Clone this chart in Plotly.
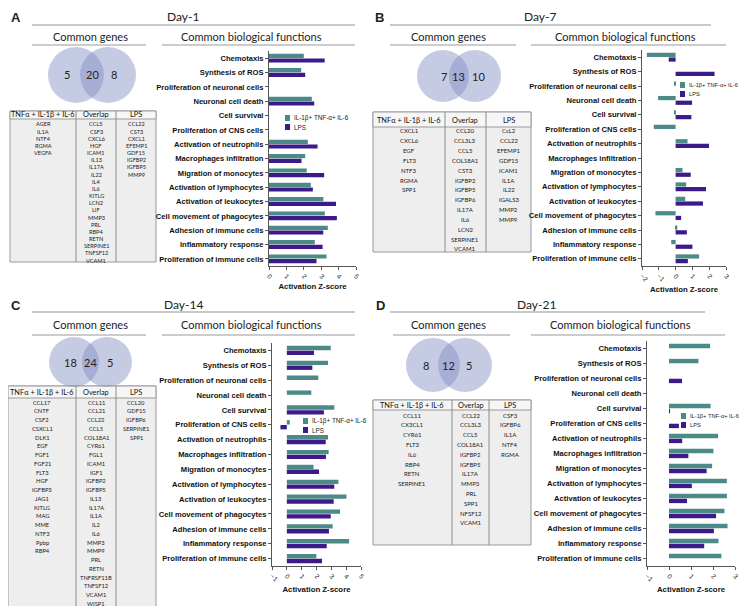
import plotly.graph_objects as go

# ── Data ──
functions = ['Chemotaxis', 'Synthesis of ROS', 'Proliferation of neuronal cells',
             'Neuronal cell death', 'Cell survival', 'Proliferation of CNS cells',
             'Activation of neutrophils', 'Macrophages infiltration', 'Migration of monocytes',
             'Activation of lymphocytes', 'Activation of leukocytes', 'Cell movement of phagocytes',
             'Adhesion of immune cells', 'Inflammatory response', 'Proliferation of immune cells']

series_names = ['IL-1β+ TNF-α+ IL-6', 'LPS']
table_headers = ['TNFα + IL-1β + IL-6', 'Overlap', 'LPS']

# Day-1
day1_cyto_genes = ['AGER', 'IL1A', 'NTF4', 'RGMA', 'VEGFA']
day1_overlap_genes = ['CCL5', 'CSF3', 'CXCL6', 'HGF', 'ICAM1', 'IL13', 'IL17A', 'IL22', 'IL4', 'IL6',
                      'KITLG', 'LCN2', 'LIF', 'MMP3', 'PRL', 'RBP4', 'RETN', 'SERPINE1', 'TNFSF12', 'VCAM1']
day1_lps_genes = ['CCL22', 'CST3', 'CXCL1', 'EFEMP1', 'GDF15', 'IGFBP2', 'IGFBP5', 'MMP9']
day1_cyto_z = [2.0, 1.85, None, 2.46, None, None, 2.23, 2.08, 2.17, 2.4, 3.12, 3.21, 3.38, 2.63, 3.31]
day1_lps_z = [3.2, 2.08, None, 2.6, None, None, 2.79, 1.87, 3.17, 2.52, 3.85, 3.9, 3.12, 3.08, 2.73]

# Day-7
day7_cyto_genes = ['CXCL1', 'CXCL6', 'EGF', 'FLT3', 'NTF3', 'RGMA', 'SPP1']
day7_overlap_genes = ['CCL20', 'CCL3L3', 'CCL5', 'COL18A1', 'CST3', 'IGFBP2', 'IGFBP5', 'IGFBP6',
                      'IL17A', 'IL6', 'LCN2', 'SERPINE1', 'VCAM1']
day7_lps_genes = ['CcL2', 'CCL22', 'EFEMP1', 'GDF15', 'ICAM1', 'IL1A', 'IL22', 'IGALS3', 'MMP2', 'MMP9']
day7_cyto_z = [-1.71, None, -0.08, -1.04, -0.08, -1.3, 0.71, None, 0.41, 0.63, 0.57, -1.2, 0.1, -0.26, 1.4]
day7_lps_z = [-0.41, 2.32, None, 0.98, 0.94, None, 1.99, None, 0.9, 1.81, 1.63, 0.33, 0.67, 1.0, 0.73]

# Day-14
day14_cyto_genes = ['CCL17', 'CNTF', 'CSF2', 'CSXCL1', 'DLK1', 'EGF', 'FGF1', 'FGF21', 'FLT3', 'HGF',
                    'IGFBP3', 'JAG1', 'KITLG', 'MAG', 'MME', 'NTF3', 'Ppbp', 'RBP4']
day14_overlap_genes = ['CCL11', 'CCL21', 'CCL22', 'CCL5', 'COL18A1', 'CYR61', 'FGL1', 'ICAM1', 'IGF1',
                       'IGFBP2', 'IGFBP5', 'IL13', 'IL17A', 'IL1A', 'IL2', 'IL6', 'MMP3', 'MMP9', 'PRL',
                       'RETN', 'TNFRSF11B', 'TNFSF12', 'VCAM1', 'WISP1']
day14_lps_genes = ['CCL20', 'GDF15', 'IGFBP6', 'SERPINE1', 'SPP1']
day14_cyto_z = [2.96, 2.78, 2.12, 1.65, 3.2, 0.2, 2.78, 2.82, 1.8, 3.48, 4.02, 3.59, 3.09, 4.2, 1.99]
day14_lps_z = [1.83, 1.72, None, None, 2.5, -0.43, 2.62, 2.64, 2.17, 3.2, 3.16, 2.96, 2.84, 2.69, 2.37]

# Day-21
day21_cyto_genes = ['CCL11', 'CX3CL1', 'CYR61', 'FLT3', 'IL6', 'RBP4', 'RETN', 'SERPINE1']
day21_overlap_genes = ['CCL22', 'CCL3L3', 'CCL5', 'COL18A1', 'IGFBP2', 'IGFBP5', 'IL17A', 'MMP3',
                       'PRL', 'SPP1', 'NFSF12', 'VCAM1']
day21_lps_genes = ['CSF3', 'IGFBP6', 'IL1A', 'NTF4', 'RGMA']
day21_cyto_z = [1.87, 1.34, None, None, 1.89, None, 2.23, 2.02, 1.96, 2.63, 2.63, 2.52, 2.66, 2.25, 2.38]
day21_lps_z = [None, None, 0.59, None, 0.03, 0.45, 0.6, 0.88, 1.71, 1.04, 0.82, 2.14, 2.04, 1.6, None]

# ── Style ──
W, H = 747, 606
TEAL = '#4b8a87'
PURP = '#3c1a8a'
VENN = 'rgba(128,140,196,0.45)'
TXT = 'Lato'
ARIAL = 'Liberation Sans'


def px(x):
    return x / W


def py(y):
    return 1 - y / H


fig = go.Figure()


def text(x, y, s, size, family=TXT, bold=False, anchor='center', color='#222'):
    fig.add_annotation(x=px(x), y=py(y), xref='paper', yref='paper', text=s, showarrow=False,
                       xanchor=anchor, yanchor='middle',
                       font=dict(family=family, size=size, color=color,
                                 weight='bold' if bold else 'normal'))


def line(x0, x1, y, color, width):
    fig.add_shape(type='line', xref='paper', yref='paper', x0=px(x0), x1=px(x1), y0=py(y), y1=py(y),
                  line=dict(color=color, width=width))


def add_panel(n, letter, day, gene_lists, z_cyto, z_lps, zrange, g):
    ax = '' if n == 1 else str(n)

    # headings
    text(g['letter'][0], g['letter'][1], letter, 13, ARIAL, bold=True)
    text(g['day'][0], g['day'][1], day, 12)
    line(g['tline'][0], g['tline'][1], g['tline'][2], '#c8c8c8', 2)
    text(g['gtitle'][0], g['gtitle'][1], 'Common genes', 11)
    line(g['gline'][0], g['gline'][1], g['gline'][2], '#9a9a9a', 1)
    text(g['ftitle'][0], g['ftitle'][1], 'Common biological functions', 11)
    line(g['fline'][0], g['fline'][1], g['fline'][2], '#9a9a9a', 1)

    # venn
    c1, c2, cy = g['venn']
    r = g['r']
    for cx in (c1, c2):
        fig.add_shape(type='circle', xref='paper', yref='paper', x0=px(cx - r), x1=px(cx + r),
                      y0=py(cy + r), y1=py(cy - r), fillcolor=VENN, line=dict(width=0))
    counts = [len(gene_lists[0]), len(gene_lists[1]), len(gene_lists[2])]
    for xn, cnt in zip(g['nums'], counts):
        text(xn, cy, str(cnt), 11)

    # gene table
    x0, x1, s1, s2, top, hb, bot = g['table']
    fig.add_shape(type='rect', xref='paper', yref='paper', x0=px(x0), x1=px(x1), y0=py(bot), y1=py(top),
                  fillcolor='#eeeeee', line=dict(color='#9a9a9a', width=1), layer='below')
    fig.add_shape(type='rect', xref='paper', yref='paper', x0=px(x0), x1=px(x1), y0=py(hb), y1=py(top),
                  fillcolor='#f6f6f6', line=dict(color='#9a9a9a', width=1), layer='below')
    for sx in (s1, s2):
        fig.add_shape(type='line', xref='paper', yref='paper', x0=px(sx), x1=px(sx), y0=py(bot), y1=py(top),
                      line=dict(color='#8c8c8c', width=1))
    col_c = [(x0 + s1) / 2, (s1 + s2) / 2, (s2 + x1) / 2]
    for cx, head, genes in zip(col_c, table_headers, gene_lists):
        text(cx, g['hy'], head, 7.4, color='#111')
        for i, gene in enumerate(genes):
            text(cx, g['row0'] + i * g['pitch'], gene, g['gsize'], color='#222')

    # bars
    for name, vals, col in zip(series_names, [z_cyto, z_lps], [TEAL, PURP]):
        fig.add_trace(go.Bar(x=vals, y=functions, orientation='h', name=name, marker_color=col,
                             marker_line_width=0, xaxis='x' + ax, yaxis='y' + ax, showlegend=False))

    fig.update_layout(**{
        'xaxis' + ax: dict(domain=[px(g['axx'][0]), px(g['axx'][1])], anchor='y' + ax,
                           range=zrange, dtick=1, tick0=0, showgrid=False, zeroline=False,
                           showline=True, linecolor='#555', linewidth=1, ticks='outside',
                           ticklen=3, tickcolor='#555', tickangle=45, automargin=False,
                           tickfont=dict(family=ARIAL, size=6.5, color='#222'),
                           title=dict(text='Activation Z-score', standoff=4,
                                      font=dict(family=ARIAL, size=7.8, color='#111', weight='bold'))),
        'yaxis' + ax: dict(domain=[py(g['axy'][1]), py(g['axy'][0])], anchor='x' + ax,
                           type='category', categoryorder='array', categoryarray=functions,
                           autorange='reversed', showgrid=False, zeroline=False,
                           showline=True, linecolor='#555', linewidth=1, ticks='outside',
                           ticklen=3, tickcolor='#555', automargin=False,
                           tickfont=dict(family=ARIAL, size=7.6, color='#111', weight='bold')),
    })

    # legend
    lx, ly = g['legend']
    for k, (name, col) in enumerate(zip(series_names, [TEAL, PURP])):
        yy = ly + k * 9
        fig.add_shape(type='rect', xref='paper', yref='paper', x0=px(lx), x1=px(lx + 5),
                      y0=py(yy + 3), y1=py(yy - 3), fillcolor=col, line=dict(width=0))
        text(lx + 7, yy, name, g['lsize'], ARIAL, anchor='left', color='#222')


geo_a = dict(letter=(8, 9), day=(175, 8), tline=(24, 347, 17), gtitle=(82, 28), gline=(24, 138, 37),
             ftitle=(243, 28), fline=(154, 347, 37), venn=(68, 100, 67), r=28, nums=(59, 84, 106),
             table=(2, 148, 68, 108, 103, 111, 254), hy=107, row0=116, pitch=7.16, gsize=5.6,
             axx=(261, 348), axy=(43, 258), legend=(277, 110), lsize=6.3)
geo_b = dict(letter=(371, 9), day=(532, 8), tline=(382, 703, 17), gtitle=(440, 28), gline=(382, 508, 37),
             ftitle=(617, 28), fline=(523, 718, 37), venn=(435, 467, 68), r=26, nums=(436, 451, 470),
             table=(365, 523, 437, 478, 104, 119, 244), hy=112, row0=123, pitch=9.83, gsize=6.0,
             axx=(634, 718), axy=(42, 258), legend=(672, 77), lsize=5.7)
geo_c = dict(letter=(8, 297), day=(175, 296), tline=(24, 347, 304), gtitle=(82, 317), gline=(24, 138, 327),
             ftitle=(243, 317), fline=(154, 347, 327), venn=(66, 99, 354), r=25, nums=(63, 82, 102),
             table=(0, 148, 68, 108, 378, 390, 603), hy=384, row0=394, pitch=8.75, gsize=5.8,
             axx=(264, 353), axy=(335, 558), legend=(295, 413), lsize=6.3)
geo_d = dict(letter=(372, 297), day=(528, 296), tline=(382, 697, 304), gtitle=(440, 317), gline=(385, 502, 327),
             ftitle=(612, 317), fline=(523, 717, 327), venn=(425, 457, 357), r=27, nums=(418, 440, 461),
             table=(365, 523, 444, 481, 392, 402, 537), hy=397, row0=407, pitch=9.8, gsize=6.0,
             axx=(639, 727), axy=(333, 558), legend=(673, 408), lsize=5.7)

add_panel(1, 'A', 'Day-1', [day1_cyto_genes, day1_overlap_genes, day1_lps_genes],
          day1_cyto_z, day1_lps_z, [0, 5], geo_a)
add_panel(2, 'B', 'Day-7', [day7_cyto_genes, day7_overlap_genes, day7_lps_genes],
          day7_cyto_z, day7_lps_z, [-2, 3], geo_b)
add_panel(3, 'C', 'Day-14', [day14_cyto_genes, day14_overlap_genes, day14_lps_genes],
          day14_cyto_z, day14_lps_z, [-1, 5], geo_c)
add_panel(4, 'D', 'Day-21', [day21_cyto_genes, day21_overlap_genes, day21_lps_genes],
          day21_cyto_z, day21_lps_z, [-1, 3], geo_d)

fig.update_layout(
    template='none',
    width=W, height=H,
    margin=dict(l=0, r=0, t=0, b=0),
    paper_bgcolor='white', plot_bgcolor='white',
    barmode='group', bargap=0.35, bargroupgap=0.1,
    showlegend=False,
)

fig.write_html("out.html")
